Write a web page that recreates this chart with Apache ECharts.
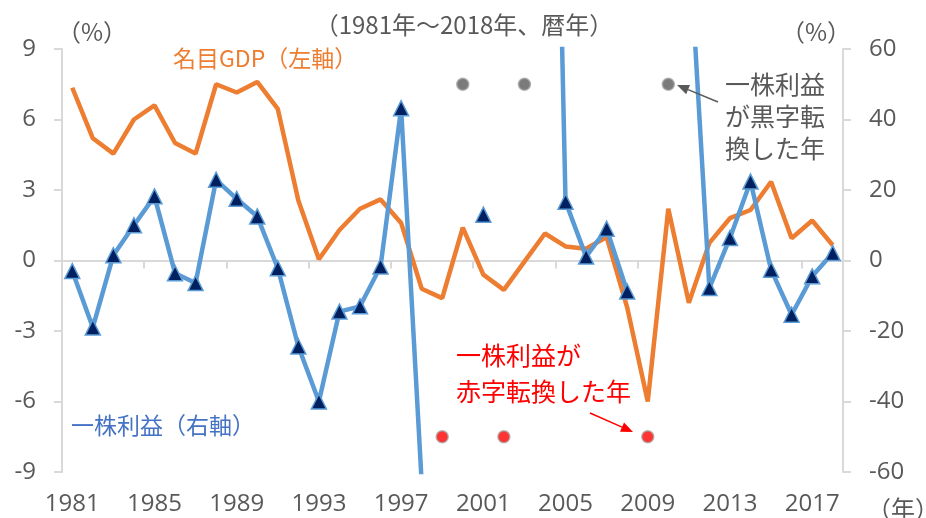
<!DOCTYPE html>
<html>
<head>
<meta charset="utf-8">
<script src="https://cdn.jsdelivr.net/npm/echarts@6/dist/echarts.min.js"></script>
<style>
  html, body { margin: 0; padding: 0; background: #fff; }
  #chart { width: 926px; height: 518px; }
</style>
</head>
<body>
<div id="chart"></div>
<script>
// ---- data ----
const years = ['1981','1982','1983','1984','1985','1986','1987','1988','1989','1990',
               '1991','1992','1993','1994','1995','1996','1997','1998','1999','2000',
               '2001','2002','2003','2004','2005','2006','2007','2008','2009','2010',
               '2011','2012','2013','2014','2015','2016','2017','2018'];
// nominal GDP growth (%), left axis
const gdp = [7.35, 5.2, 4.55, 6.0, 6.6, 5.0, 4.55, 7.5, 7.15, 7.6,
             6.45, 2.55, 0.05, 1.3, 2.2, 2.6, 1.6, -1.2, -1.6, 1.4,
             -0.6, -1.25, -0.05, 1.15, 0.6, 0.5, 1.0, -2.0, -6.0, 2.2,
             -1.8, 0.75, 1.8, 2.15, 3.35, 0.95, 1.7, 0.65];
// EPS growth (%), right axis; null = loss/turnaround year
const eps = [-3.0, -19.0, 1.5, 10.0, 18.2, -3.6, -6.4, 22.9, 17.5, 12.5,
             -2.2, -24.4, -40.0, -14.5, -13.0, -1.7, 43.2, -63.0, null, null,
             13.0, null, null, 280.0, 16.7, 1.1, 9.0, -8.8, null, null,
             92.0, -7.8, 6.4, 22.4, -2.6, -15.4, -4.5, 2.1];
const blackYears = ['2000', '2003', '2010'];
const redYears = ['1999', '2002', '2009'];
const blackLevel = 50;
const redLevel = -50;
const leftTicks = { min: -9, max: 9, interval: 3 };
const rightTicks = { min: -60, max: 60, interval: 20 };

// ---- chart ----
const chart = echarts.init(document.getElementById('chart'));
const grey = '#595959';
const axisGrey = '#D9D9D9';
const numFont = '"Open Sans", "Liberation Sans", sans-serif';
const cjkFont = '"Noto Sans CJK JP", "Noto Sans", sans-serif';

function arrow(x1, y1, x2, y2, color) {
  const ang = Math.atan2(y2 - y1, x2 - x1);
  const L = 12, W = 5;
  const bx = x2 - L * Math.cos(ang), by = y2 - L * Math.sin(ang);
  const px = -Math.sin(ang) * W, py = Math.cos(ang) * W;
  return [
    { type: 'line', shape: { x1: x1, y1: y1, x2: bx, y2: by }, style: { stroke: color, lineWidth: 1.5 }, z: 100 },
    { type: 'polygon', shape: { points: [[x2, y2], [bx + px, by + py], [bx - px, by - py]] }, style: { fill: color }, z: 100 }
  ];
}

const axisLabelStyle = { color: grey, fontSize: 24, fontFamily: numFont };

const option = {
  animation: false,
  backgroundColor: '#fff',
  grid: { left: 62, right: 83, top: 49, bottom: 46, containLabel: false },
  xAxis: [
    {
      type: 'category', data: years, boundaryGap: true, position: 'bottom',
      axisLine: { show: true, onZero: true, onZeroAxisIndex: 0, lineStyle: { color: axisGrey, width: 2 } },
      axisTick: { show: true, interval: 3, length: 8, lineStyle: { color: axisGrey, width: 2 } },
      axisLabel: { show: false },
      splitLine: { show: false }
    },
    {
      type: 'category', data: years, boundaryGap: true, position: 'bottom',
      axisLine: { show: false, onZero: false },
      axisTick: { show: false },
      axisLabel: Object.assign({ interval: 3, margin: 20 }, axisLabelStyle),
      splitLine: { show: false }
    }
  ],
  yAxis: [
    {
      type: 'value', position: 'left', min: leftTicks.min, max: leftTicks.max, interval: leftTicks.interval,
      axisLine: { show: true, lineStyle: { color: axisGrey, width: 2 } },
      axisTick: { show: true, length: 8, lineStyle: { color: axisGrey, width: 2 } },
      axisLabel: Object.assign({ margin: 26 }, axisLabelStyle),
      splitLine: { show: false }
    },
    {
      type: 'value', position: 'right', min: rightTicks.min, max: rightTicks.max, interval: rightTicks.interval,
      axisLine: { show: true, lineStyle: { color: axisGrey, width: 2 } },
      axisTick: { show: true, length: 8, lineStyle: { color: axisGrey, width: 2 } },
      axisLabel: Object.assign({ margin: 26 }, axisLabelStyle),
      splitLine: { show: false }
    }
  ],
  series: [
    {
      name: '名目GDP', type: 'line', xAxisIndex: 0, yAxisIndex: 0, data: gdp,
      symbol: 'none', lineStyle: { color: '#ED7D31', width: 4.5 }, itemStyle: { color: '#ED7D31' },
      z: 2
    },
    {
      name: '一株利益', type: 'line', xAxisIndex: 0, yAxisIndex: 1, data: eps,
      connectNulls: false, clip: true,
      symbol: 'triangle', symbolSize: 15, showSymbol: true, showAllSymbol: true,
      lineStyle: { color: '#5B9BD5', width: 4.5 },
      itemStyle: { color: '#002060', borderColor: '#5B9BD5', borderWidth: 1.5 },
      z: 3
    },
    {
      name: '黒字転換', type: 'scatter', xAxisIndex: 0, yAxisIndex: 1,
      data: blackYears.map(y => [y, blackLevel]),
      symbol: 'circle', symbolSize: 12,
      itemStyle: { color: '#5A5A5A', borderColor: '#A6A6A6', borderWidth: 1.5 },
      z: 4
    },
    {
      name: '赤字転換', type: 'scatter', xAxisIndex: 0, yAxisIndex: 1,
      data: redYears.map(y => [y, redLevel]),
      symbol: 'circle', symbolSize: 12,
      itemStyle: { color: '#FF0000', borderColor: '#A6A6A6', borderWidth: 1.5 },
      z: 4
    }
  ],
  graphic: [
    { type: 'text', x: 464, y: 25, style: { text: '（1981年～2018年、暦年）', font: '24px ' + cjkFont, fill: grey, align: 'center', verticalAlign: 'middle' }, z: 100 },
    { type: 'text', x: 92, y: 32, style: { text: '（%）', font: '24px ' + cjkFont, fill: grey, align: 'center', verticalAlign: 'middle' }, z: 100 },
    { type: 'text', x: 816, y: 32, style: { text: '（%）', font: '24px ' + cjkFont, fill: grey, align: 'center', verticalAlign: 'middle' }, z: 100 },
    { type: 'text', x: 903, y: 509, style: { text: '（年）', font: '24px ' + cjkFont, fill: grey, align: 'center', verticalAlign: 'middle' }, z: 100 },
    { type: 'text', x: 173, y: 58, style: { text: '名目GDP（左軸）', font: '23px ' + cjkFont, fill: '#ED7D31', align: 'left', verticalAlign: 'middle' }, z: 100 },
    { type: 'text', x: 71, y: 425, style: { text: '一株利益（右軸）', font: '23px ' + cjkFont, fill: '#4472C4', align: 'left', verticalAlign: 'middle' }, z: 100 },
    { type: 'text', x: 725, y: 68, style: { text: '一株利益\nが黒字転\n換した年', font: '25px ' + cjkFont, lineHeight: 32, fill: grey, align: 'left', verticalAlign: 'top' }, z: 100 },
    { type: 'text', x: 456, y: 337, style: { text: '一株利益が\n赤字転換した年', font: '25px ' + cjkFont, lineHeight: 36, fill: '#FF0000', align: 'left', verticalAlign: 'top' }, z: 100 }
  ].concat(arrow(718, 102, 677, 85, grey)).concat(arrow(590, 413, 633, 432, '#FF0000'))
};
chart.setOption(option);
</script>
</body>
</html>
